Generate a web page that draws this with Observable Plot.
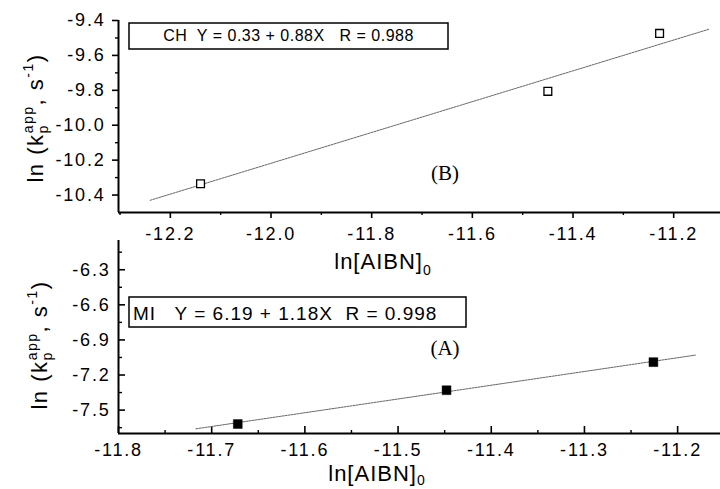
<!DOCTYPE html>
<html><head><meta charset="utf-8">
<script src="https://cdn.jsdelivr.net/npm/d3@7"></script>
<script src="https://cdn.jsdelivr.net/npm/@observablehq/plot@0.6"></script>
<style>
body{margin:0;background:#fff;}
#chart{position:relative;width:720px;height:489px;overflow:hidden;background:#fff;}
#chart svg{position:absolute;left:0;top:0;max-width:none;}
#chart svg text{letter-spacing:1.8px;}
</style></head><body><div id="chart"></div>
<script>
// ---- Panel B (CH), open squares ----
const chX = [-12.14, -11.45, -11.228];
const chY = [-10.335, -9.806, -9.474];
const chFitX = [-12.24, -11.13];
const chFitY = [-10.43, -9.45];
const chXMajor = [-12.2, -12.0, -11.8, -11.6, -11.4, -11.2];
const chXMinor = [-12.3, -12.1, -11.9, -11.7, -11.5, -11.3];
const chYMajor = [-10.4, -10.2, -10.0, -9.8, -9.6, -9.4];
const chYMinor = [-10.3, -10.1, -9.9, -9.7, -9.5];
const chLegend = "CH  Y = 0.33 + 0.88X   R = 0.988";
const chTag = "(B)";

// ---- Panel A (MI), filled squares ----
const miX = [-11.672, -11.448, -11.226];
const miY = [-7.619, -7.33, -7.09];
const miFitX = [-11.717, -11.181];
const miFitY = [-7.66, -7.03];
const miXMajor = [-11.8, -11.7, -11.6, -11.5, -11.4, -11.3, -11.2];
const miXMinor = [-11.75, -11.65, -11.55, -11.45, -11.35, -11.25];
const miYMajor = [-7.5, -7.2, -6.9, -6.6, -6.3];
const miYMinor = [-7.65, -7.35, -7.05, -6.75, -6.45, -6.15];
const miLegend = "MI   Y = 6.19 + 1.18X  R = 0.998";
const miTag = "(A)";

const xLabel = "ln[AIBN]";
const xLabelSub = "0";

const fmt = d => d.toFixed(1);
const pts = (xs, ys) => xs.map((x, i) => ({x, y: ys[i]}));
const font = "'Liberation Sans', Arial, Helvetica, sans-serif";
const baseStyle = {fontFamily: font, fontSize: "18px", background: "transparent", color: "black", overflow: "visible"};

// Top panel (B)
const topPlot = Plot.plot({
  width: 720, height: 280,
  marginTop: 20, marginBottom: 68, marginLeft: 118, marginRight: 0,
  style: baseStyle,
  x: {domain: [-12.303, -11.107]},
  y: {domain: [-10.5, -9.4]},
  marks: [
    Plot.ruleX([-12.303], {stroke: "black", strokeWidth: 2}),
    Plot.ruleY([-10.5], {stroke: "black", strokeWidth: 2}),
    Plot.axisY({ticks: chYMajor, tickFormat: fmt, tickSize: 6, tickPadding: 7, strokeWidth: 1.6, label: null}),
    Plot.axisY({ticks: chYMinor, text: null, tickSize: 3, strokeWidth: 1.4, label: null}),
    Plot.axisX({ticks: chXMajor, tickFormat: fmt, tickSize: 6, tickPadding: 9, strokeWidth: 1.6, label: null}),
    Plot.axisX({ticks: chXMinor, text: null, tickSize: 3, strokeWidth: 1.4, label: null}),
    Plot.line(pts(chFitX, chFitY), {x: "x", y: "y", stroke: "#666", strokeWidth: 1, strokeDasharray: "2,1"}),
    Plot.dot(pts(chX, chY), {x: "x", y: "y", symbol: "square", r: 4.4, stroke: "black", fill: "white", strokeWidth: 1.3})
  ]
});

// Bottom panel (A)
const botPlot = Plot.plot({
  width: 720, height: 489,
  marginTop: 240, marginBottom: 56, marginLeft: 118, marginRight: 0,
  style: baseStyle,
  x: {domain: [-11.8, -11.154]},
  y: {domain: [-7.7, -6.05]},
  marks: [
    Plot.ruleX([-11.8], {stroke: "black", strokeWidth: 2}),
    Plot.ruleY([-7.7], {stroke: "black", strokeWidth: 2}),
    Plot.axisY({ticks: miYMajor, tickFormat: fmt, tickSize: 0, tickPadding: 8, label: null}),
    Plot.axisY({ticks: miYMajor, text: null, tickSize: 7, dx: 7, strokeWidth: 1.6, label: null}),
    Plot.axisY({ticks: miYMinor, text: null, tickSize: 4, dx: 4, strokeWidth: 1.4, label: null}),
    Plot.axisX({ticks: miXMajor, tickFormat: fmt, tickSize: 0, tickPadding: 10, label: null}),
    Plot.axisX({ticks: miXMajor, text: null, tickSize: 7, dy: -7, strokeWidth: 1.6, label: null}),
    Plot.axisX({ticks: miXMinor, text: null, tickSize: 3, dy: -3, strokeWidth: 1.4, label: null}),
    Plot.line(pts(miFitX, miFitY), {x: "x", y: "y", stroke: "#666", strokeWidth: 1, strokeDasharray: "2,1"}),
    Plot.dot(pts(miX, miY), {x: "x", y: "y", symbol: "square", r: 5, fill: "black", stroke: "black", strokeWidth: 0.5})
  ]
});

const chart = document.getElementById("chart");
chart.appendChild(botPlot);
chart.appendChild(topPlot);

function legendBox(svg, bx, by, bw, bh, text, tx, ty, size, anchor, ls) {
  const g = d3.select(svg).append("g");
  g.append("rect").attr("x", bx).attr("y", by).attr("width", bw).attr("height", bh)
    .attr("fill", "white").attr("stroke", "black").attr("stroke-width", 1.5);
  g.append("text").attr("x", tx).attr("y", ty).attr("text-anchor", anchor)
    .style("font-size", size + "px").style("letter-spacing", ls + "px").style("font-family", font).text(text);
}
function tag(svg, x, y, text) {
  d3.select(svg).append("text").attr("x", x).attr("y", y).attr("text-anchor", "middle")
    .style("font-family", "'Liberation Serif', 'Times New Roman', serif").style("font-size", "21px")
    .style("letter-spacing", "0px").text(text);
}
function xlab(svg, x, y, subDy) {
  const t = d3.select(svg).append("text").attr("x", x).attr("y", y)
    .style("font-family", font).style("font-size", "22px").style("letter-spacing", "1px");
  t.append("tspan").text(xLabel);
  t.append("tspan").attr("dy", subDy).style("font-size", "14px").text(xLabelSub);
}
function ylab(svg, x, y) {
  const t = d3.select(svg).append("text").attr("transform", `translate(${x},${y}) rotate(-90)`)
    .attr("text-anchor", "middle").style("font-family", font).style("font-size", "22px").style("letter-spacing", "1.5px");
  t.append("tspan").text("ln (k");
  t.append("tspan").attr("dy", 5).style("font-size", "14px").text("p");
  t.append("tspan").attr("dx", -9).attr("dy", -15).style("font-size", "14px").text("app");
  t.append("tspan").attr("dy", 10).text(", s");
  t.append("tspan").attr("dy", -10).style("font-size", "14px").text("-1");
  t.append("tspan").attr("dy", 10).text(")");
}

legendBox(topPlot, 129, 23, 319, 26, chLegend, 288.5, 41, 16, "middle", 0.5);
tag(topPlot, 445, 180, chTag);
xlab(topPlot, 383, 269, 6);
ylab(topPlot, 43, 118);

legendBox(botPlot, 129, 297, 337, 30, miLegend, 133, 320, 19, "start", 1);
tag(botPlot, 445, 355, miTag);
xlab(botPlot, 377, 481, 4);
ylab(botPlot, 47, 345);
</script></body></html>
